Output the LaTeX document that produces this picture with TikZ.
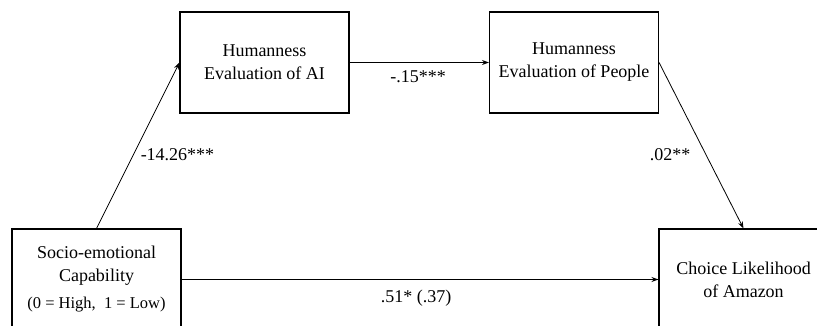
\documentclass[tikz,border=0pt]{standalone}
\usepackage{fontspec}
\setmainfont{Liberation Serif}
\usetikzlibrary{arrows.meta}
\begin{document}
\begin{tikzpicture}[x=1pt,y=-1pt,
  box/.style={draw,line width=1.1pt,minimum width=169pt,minimum height=101pt,align=center,inner sep=0pt,font=\fontsize{18}{23}\selectfont},
  conn/.style={line width=0.8pt,-{Stealth[length=7pt,width=5pt]}},
  lab/.style={font=\fontsize{18}{22}\selectfont,inner sep=0pt}]
\clip (0,0) rectangle (817,326);
\fill[white] (0,0) rectangle (817,326);
\node[box] (ai) at (264.5,62.5) {Humanness\\Evaluation of AI};
\node[box] (pe) at (574,62.5) {Humanness\\Evaluation of People};
\node[box] (se) at (96.5,279.5) {Socio-emotional\\Capability\\[4pt]{\fontsize{16.5}{19}\selectfont (0 = High,\ \ 1 = Low)}};
\node[box] (ch) at (743.5,279.5) {Choice Likelihood\\of Amazon};
\draw[conn] (se.north) -- (ai.west);
\draw[conn] (ai.east) -- (pe.west);
\draw[conn] (pe.east) -- (ch.north);
\draw[conn] (se.east) -- (ch.west);
\node[lab] (l1) at (177.5,155) {-14.26***};
\node[lab] (l2) at (418,77) {-.15***};
\node[lab] (l3) at (670,155) {.02**};
\node[lab] (l4) at (416,298) {.51* (.37)};
\end{tikzpicture}
\end{document}
